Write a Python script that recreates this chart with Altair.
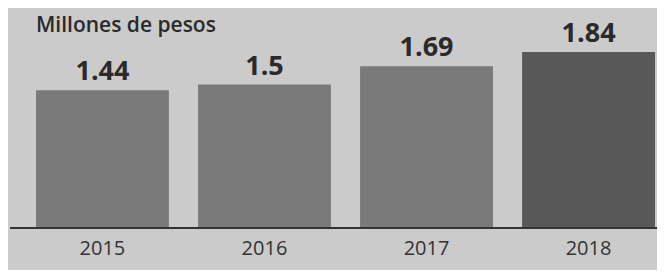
import altair as alt
import pandas as pd

years = ["2015", "2016", "2017", "2018"]
values = [1.44, 1.5, 1.69, 1.84]
labels = ["1.44", "1.5", "1.69", "1.84"]
bar_colors = ["#7a7a7a", "#7a7a7a", "#7a7a7a", "#585858"]

df = pd.DataFrame({"year": years, "value": values, "label": labels, "color": bar_colors})

x = alt.X("year:N", sort=years, title=None,
          scale=alt.Scale(paddingInner=0.18, paddingOuter=0),
          axis=alt.Axis(labelAngle=0, labelFontSize=20, labelColor="#333333",
                        labelFont="Open Sans", labelPadding=10, ticks=False,
                        domain=False))
y = alt.Y("value:Q", title=None, scale=alt.Scale(domain=[0, 2.3], nice=False),
          axis=None)

bars = alt.Chart(df).mark_bar().encode(
    x=x, y=y, color=alt.Color("color:N", scale=None)
)

text = alt.Chart(df).mark_text(
    dy=-10, fontSize=27, fontWeight="bold", font="Open Sans", color="#2a2a2a",
    baseline="alphabetic"
).encode(x=x, y=y, text="label:N")

base = alt.Chart(df).mark_rule(color="#333333", strokeWidth=2).encode(
    y=alt.datum(0), x=alt.value(-26), x2=alt.value(621)
)

title = alt.Chart(pd.DataFrame({"t": ["Millones de pesos"]})).mark_text(
    align="left", baseline="alphabetic", fontSize=21, fontWeight=600,
    font="Open Sans", color="#2a2a2a"
).encode(x=alt.value(0), y=alt.value(24), text="t:N")

chart = alt.layer(bars, text, base, title).properties(
    width=619, height=220,
    autosize=alt.AutoSizeParams(type="none"),
    padding={"left": 28, "top": 0, "right": 2, "bottom": 42},
    background="#cbcbcb"
).configure_view(stroke=None)

chart.save("out.html", embed_options={"renderer": "svg", "actions": False})
